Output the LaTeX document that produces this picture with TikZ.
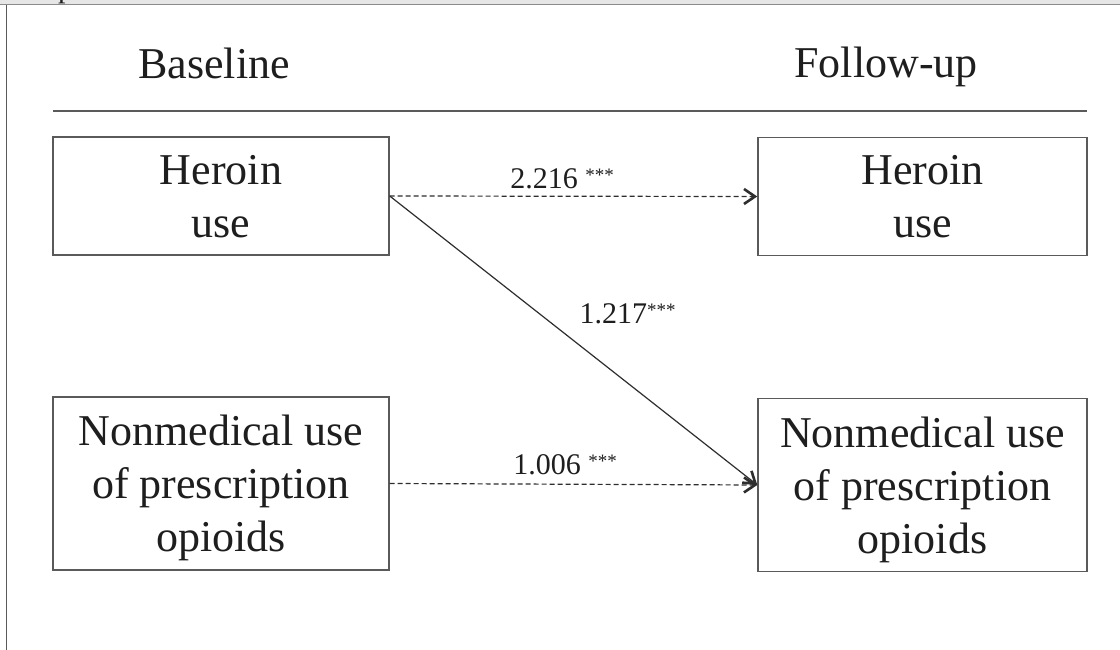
\documentclass[tikz,border=0pt]{standalone}
\usepackage{fontspec}
\setmainfont{Liberation Serif}
\usetikzlibrary{arrows.meta}
\definecolor{boxline}{HTML}{5A5A5A}
\definecolor{arrline}{HTML}{2E2E2E}
\definecolor{txt}{HTML}{1E1E1E}
\definecolor{barfill}{HTML}{E6E6E6}
\tikzset{
  varbox/.style={draw=boxline, line width=1.4pt, inner sep=0pt,
    align=center, text=txt, text depth=0pt, font=\fontsize{44}{53}\selectfont},
  header/.style={anchor=base, text=txt, inner sep=0pt, font=\fontsize{44}{53}\selectfont},
  coef/.style={text=txt, inner sep=0pt, font=\fontsize{30}{36}\selectfont},
  patharrow/.style={draw=arrline, line width=1.2pt,
    -{Straight Barb[length=11pt,width=15pt,line width=2.6pt]}},
  pathdash/.style={patharrow, dash pattern=on 5pt off 3pt}
}
\newcommand{\stars}{\raisebox{7pt}{\fontsize{19}{19}\selectfont ***}}
\begin{document}
\begin{tikzpicture}[x=1pt,y=-1pt]
\useasboundingbox (0,0) rectangle (1120,650);
\fill[white] (0,0) rectangle (1120,650);
% top bar
\fill[barfill] (0,0) rectangle (1120,4.5);
\begin{scope}
\clip (0,0) rectangle (1120,4.5);
\node[anchor=base west, inner sep=0pt, text=txt, font=\fontsize{30}{36}\selectfont] (cut) at (58,-2.5) {p};
\end{scope}
\draw[boxline!70, line width=1pt] (0,4.8) -- (1120,4.8);
\draw[boxline, line width=1.5pt] (6.7,4.8) -- (6.7,650);
% headers
\node[header] (hb) at (214,79) {Baseline};
\node[header] (hf) at (886,78) {Follow-up};
\coordinate (rl) at (53,111);
\coordinate (rr) at (1087,111);
\draw[boxline, line width=1.4pt] (rl) -- (rr);
% boxes
\node[varbox, minimum width=336pt, minimum height=118pt] (hL) at (221,196) {Heroin\\use};
\node[varbox, minimum width=329pt, minimum height=118pt] (hR) at (922.5,196.5) {Heroin\\use};
\node[varbox, minimum width=336pt, minimum height=173pt] (nL) at (221,483.5) {Nonmedical use\\of prescription\\opioids};
\node[varbox, minimum width=329pt, minimum height=173pt] (nR) at (922.5,485) {Nonmedical use\\of prescription\\opioids};
% paths
\draw[pathdash] (hL.east) -- node[coef, pos=0, anchor=base west, xshift=120pt, yshift=7pt] (c1) {2.216 \stars} (hR.west);
\draw[patharrow] (hL.east) -- node[coef, pos=0.5, anchor=base west, xshift=5.5pt, yshift=17pt] (c2) {1.217\stars} (nR.west);
\draw[pathdash] (nL.east) -- node[coef, pos=0, anchor=base west, xshift=123pt, yshift=9.5pt] (c3) {1.006 \stars} (nR.west);
\end{tikzpicture}
\end{document}
